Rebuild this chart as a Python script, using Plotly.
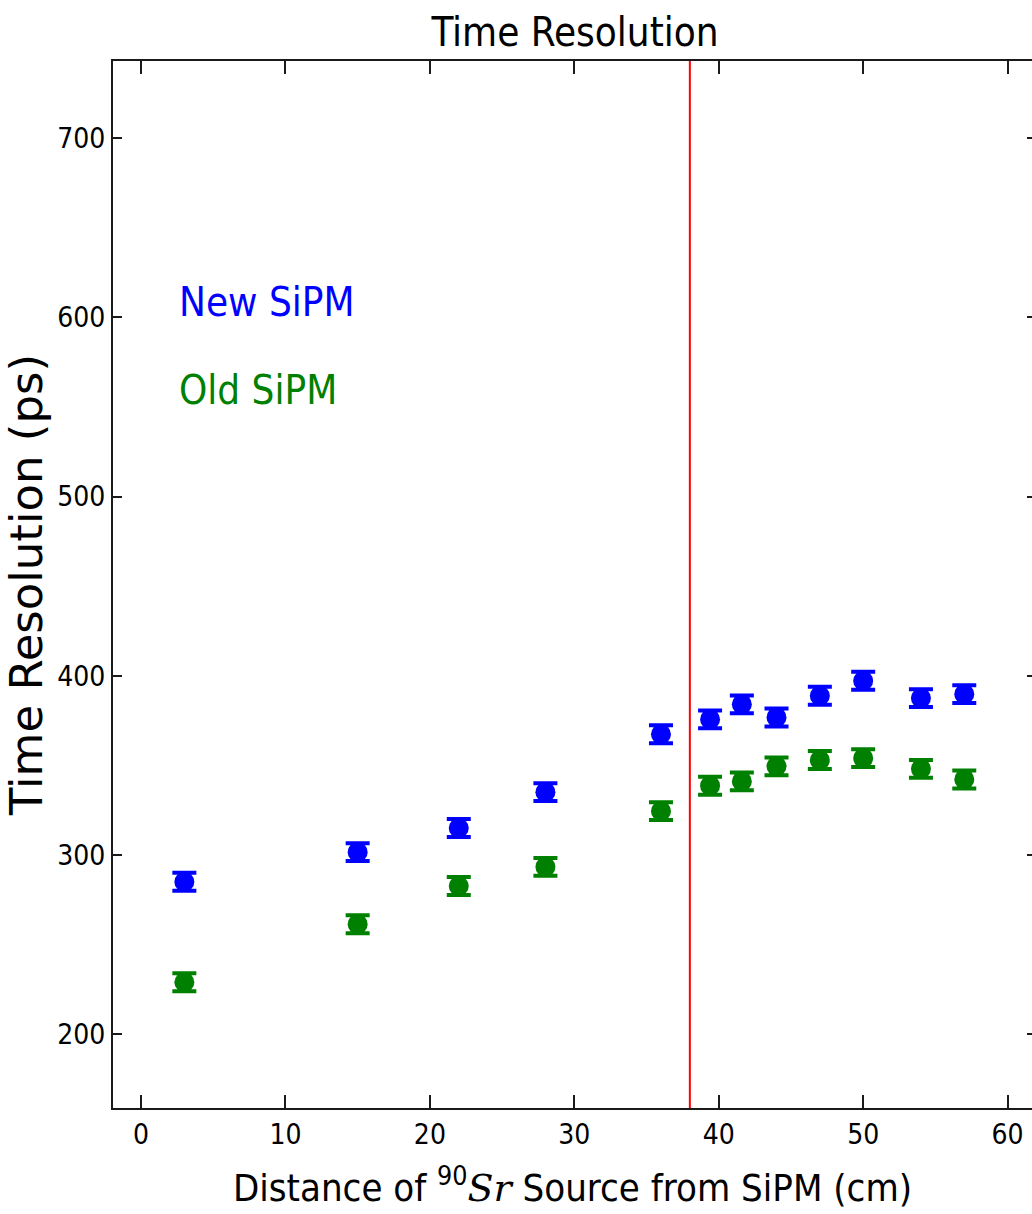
import plotly.graph_objects as go

distance_cm = [3, 15, 22, 28, 36, 39.4, 41.6, 44, 47, 50, 54, 57]
new_sipm_ps = [285.0, 301.5, 315.0, 335.0, 367.3, 375.6, 384.0, 376.7, 388.8, 397.2, 387.5, 389.7]
old_sipm_ps = [228.9, 261.3, 282.6, 293.3, 324.4, 338.6, 341.0, 349.4, 352.9, 354.0, 348.0, 342.1]
new_err = [5] * len(distance_cm)
old_err = [5] * len(distance_cm)
cut_position = 38
x_ticks = [0, 10, 20, 30, 40, 50, 60]
y_ticks = [200, 300, 400, 500, 600, 700]

NARROW = "DejaVu Sans Condensed, Liberation Sans Narrow, Liberation Sans, sans-serif"
WIDE = "DejaVu Sans, Verdana, sans-serif"
AX = "#1a1a1a"

fig = go.Figure()

def add_series(y, err, color):
    fig.add_trace(go.Scatter(
        x=distance_cm, y=y, mode="markers",
        marker=dict(color=color, size=20, line=dict(width=0)),
        error_y=dict(type="data", array=err, visible=True, color=color,
                     thickness=4, width=12),
        showlegend=False, hoverinfo="x+y"))

add_series(new_sipm_ps, new_err, "#0000ff")
add_series(old_sipm_ps, old_err, "#008000")

fig.add_shape(type="line", xref="x", yref="paper", x0=cut_position, x1=cut_position,
              y0=0, y1=1, line=dict(color="#ff0000", width=2), layer="above")

fig.add_annotation(x=2.5, y=608.5, xref="x", yref="y", text="New SiPM", showarrow=False,
                   xanchor="left", yanchor="middle",
                   font=dict(family=NARROW, size=40, color="#0000ff"))
fig.add_annotation(x=2.5, y=559.4, xref="x", yref="y", text="Old SiPM", showarrow=False,
                   xanchor="left", yanchor="middle",
                   font=dict(family=NARROW, size=40, color="#008000"))

xr = [-1.94, -1.94 + 919 / 14.443]
yr = [158.7, 743.1]

fig.update_layout(
    width=1032, height=1214,
    margin=dict(l=113, r=0, t=61, b=106),
    paper_bgcolor="white", plot_bgcolor="white",
    title=dict(text="Time Resolution", x=(575 - 113) / 919, xref="paper", xanchor="center",
               y=1 - 32 / 1214, yref="container", yanchor="middle",
               font=dict(family=NARROW, size=40, color="black")),
    xaxis=dict(range=xr, tickvals=x_ticks, ticktext=[str(v) for v in x_ticks],
               ticks="inside", ticklen=13, tickwidth=1.5, tickcolor=AX,
               showline=True, linecolor=AX, linewidth=2, mirror="ticks",
               showgrid=False, zeroline=False,
               tickfont=dict(family=NARROW, size=28, color="black"),
               title=dict(text='Distance of <sup>90</sup><span style="font-family:DejaVu Serif;font-style:italic">Sr</span> Source from SiPM (cm)',
                          font=dict(family=NARROW, size=38, color="black"), standoff=25)),
    yaxis=dict(range=yr, tickvals=y_ticks, ticktext=[str(v) for v in y_ticks],
               ticks="inside", ticklen=9, tickwidth=1.5, tickcolor=AX,
               showline=True, linecolor=AX, linewidth=2, mirror=False,
               showgrid=False, zeroline=False,
               tickfont=dict(family=NARROW, size=28, color="black"),
               title=dict(text="Time Resolution (ps)",
                          font=dict(family=WIDE, size=45, color="black"), standoff=16)),
    yaxis2=dict(range=yr, tickvals=y_ticks, overlaying="y", side="right", anchor="x",
                ticks="inside", ticklen=5, tickwidth=1.5, tickcolor=AX,
                showticklabels=False, showline=False, showgrid=False, zeroline=False),
)
fig.add_trace(go.Scatter(x=[None], y=[None], yaxis="y2", showlegend=False, hoverinfo="skip"))

fig.write_html("out.html")
